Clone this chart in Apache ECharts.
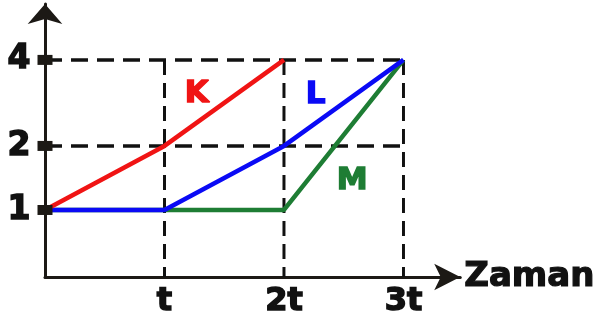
<!DOCTYPE html>
<html>
<head>
<meta charset="utf-8">
<script src="https://cdn.jsdelivr.net/npm/echarts@6/dist/echarts.min.js"></script>
<style>
  html, body { margin: 0; padding: 0; background: #fff; }
  #main { width: 598px; height: 324px; }
</style>
</head>
<body>
<div id="main"></div>
<script>
// x in units of t, y values as written on the figure
var xTicks = [1, 2, 3];
var xTickLabels = ['t', '2t', '3t'];
var yTicks = [1, 2, 4];
var hGuides = [2, 4];
var vGuides = [1, 2, 3];
var kData = [[0, 1], [1, 2], [2, 4]];
var lData = [[0, 1], [1, 1], [2, 2], [3, 4]];
var mData = [[0, 1], [2, 1], [3, 4]];

// the figure's y axis is not evenly spaced: 0-1-2 are wider than 2-4
var yKnots = [0, 1, 2, 4];
var yDraw = [0, 1.235, 2.415, 4];
function warp(v) {
    for (var i = 1; i < yKnots.length; i++) {
        if (v <= yKnots[i]) {
            var f = (v - yKnots[i - 1]) / (yKnots[i] - yKnots[i - 1]);
            return yDraw[i - 1] + f * (yDraw[i] - yDraw[i - 1]);
        }
    }
    return yDraw[yDraw.length - 1];
}
function pts(arr) {
    return arr.map(function (p) { return [p[0], warp(p[1])]; });
}

var ink = '#1c1915';
var font = 'DejaVu Sans';
var red = '#f01414', blue = '#0a0af5', green = '#1e7d34';

var series = [];
// dashed guides
hGuides.forEach(function (g) {
    series.push({
        type: 'line', silent: true, symbol: 'none', z: 1,
        data: pts([[0, g], [3, g]]),
        lineStyle: { color: '#111', width: 3.5, type: [17, 9] }
    });
});
vGuides.forEach(function (g) {
    series.push({
        type: 'line', silent: true, symbol: 'none', z: 1,
        data: pts([[g, 4], [g, 0]]),
        lineStyle: { color: '#111', width: 3, type: [15, 8] }
    });
});
// the three curves
series.push({ name: 'M', type: 'line', symbol: 'none', z: 3, data: pts(mData),
    lineStyle: { color: green, width: 4.5 } });
series.push({ name: 'L', type: 'line', symbol: 'none', z: 4, data: pts(lData),
    lineStyle: { color: blue, width: 4.5 } });
series.push({ name: 'K', type: 'line', symbol: 'none', z: 5, data: pts(kData),
    lineStyle: { color: red, width: 4.5 } });
// square tick marks with their labels on the y axis
series.push({
    type: 'scatter', symbol: 'rect', symbolSize: [15, 10], clip: false, z: 6,
    data: yTicks.map(function (v) { return { value: [0, warp(v)], name: String(v) }; }),
    itemStyle: { color: ink, opacity: 1 },
    label: {
        show: true, position: 'left', distance: 7,
        formatter: function (p) { return p.name; },
        fontFamily: font, fontWeight: 'bold', fontSize: 33, color: '#111',
        textBorderColor: '#111', textBorderWidth: 1.5
    }
});

function heavy(txt, color, x, y) {
    return { type: 'text', left: x, top: y,
        style: { text: txt, fill: color, stroke: color, lineWidth: 1.5, font: 'bold 31px "DejaVu Sans"' } };
}

var chart = echarts.init(document.getElementById('main'));
chart.setOption({
    animation: false,
    grid: { left: 45, right: 136, top: 4, bottom: 47 },
    xAxis: {
        type: 'value', min: 0, max: 3.475, interval: 1,
        name: 'Zaman', nameLocation: 'end', nameGap: 4,
        nameTextStyle: { fontFamily: font, fontWeight: 'bold', fontSize: 34, color: '#111',
            textBorderColor: '#111', textBorderWidth: 1.2,
            verticalAlign: 'middle', padding: [0, 0, 2, 0] },
        axisLine: { lineStyle: { color: ink, width: 3 }, symbol: ['none', 'arrow'], symbolSize: [20, 26] },
        axisTick: { show: false },
        splitLine: { show: false },
        axisLabel: {
            margin: 9, fontFamily: font, fontWeight: 'bold', fontSize: 32, color: '#111',
            textBorderColor: '#111', textBorderWidth: 1.5,
            formatter: function (v) {
                var i = xTicks.indexOf(v);
                return i >= 0 ? xTickLabels[i] : '';
            }
        }
    },
    yAxis: {
        type: 'value', min: 0, max: 5.03,
        axisLine: { lineStyle: { color: ink, width: 3 }, symbol: ['none', 'arrow'], symbolSize: [26, 20] },
        axisTick: { show: false },
        axisLabel: { show: false },
        splitLine: { show: false }
    },
    graphic: [
        heavy('K', red, 184, 78),
        heavy('L', blue, 305, 79),
        heavy('M', green, 336, 165)
    ],
    series: series
});
</script>
</body>
</html>
